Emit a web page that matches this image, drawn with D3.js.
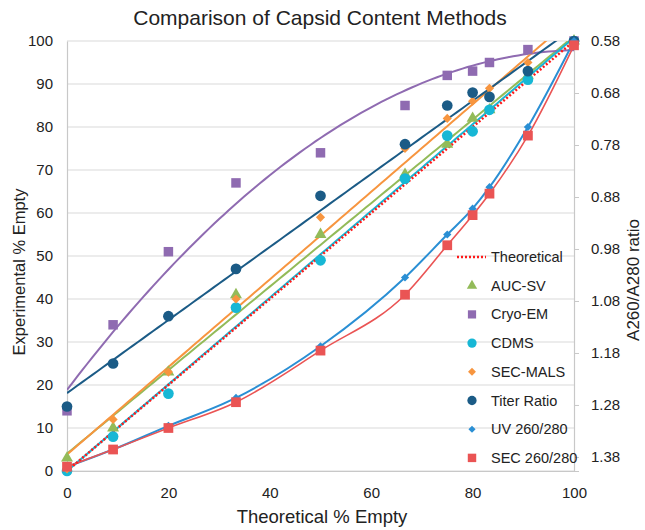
<!DOCTYPE html>
<html>
<head>
<meta charset="utf-8">
<script src="https://cdn.jsdelivr.net/npm/d3@7"></script>
<style>
	body { margin: 0; background: #fff; }
	text { font-family: "Liberation Sans", Arial, sans-serif; fill: #222; }
</style>
</head>
<body>
<svg id="chart"></svg>
<script>
// theoretical % empty of each sample
const xValues = [0, 9.09, 20, 33.33, 50, 66.67, 75, 80, 83.33, 90.91, 100]
const theoretical = [0, 9.09, 20, 33.33, 50, 66.67, 75, 80, 83.33, 90.91, 100]
const aucSv = [3, 10, 23, 41, 55, 69, 76, 82, 84, 92, 100]
const cryoEm = [14, 34, 51, 67, 74, 85, 92, 93, 95, 98, 100]
const cdms = [0, 8, 18, 38, 49, 68, 78, 79, 84, 91, 100]
const secMals = [0.5, 12, 23, 40, 59, 75, 82, 86, 89, 95, 100]
const titerRatio = [15, 25, 36, 47, 64, 76, 85, 88, 87, 93, 100]
const uv260280 = [1, 5, 10.5, 17, 29, 45, 55, 61, 66, 80, 100]
const sec260280 = [1, 5, 10, 16, 28, 41, 52.5, 59.5, 64.5, 78, 99]

const yTicks = [0, 10, 20, 30, 40, 50, 60, 70, 80, 90, 100]
const xTicks = [0, 20, 40, 60, 80, 100]
const ratioTicks = [0.58, 0.68, 0.78, 0.88, 0.98, 1.08, 1.18, 1.28, 1.38]

// fit: "linear", "poly2" or "smooth" (line through the points)
// diamonds are squares turned by 45 degrees
const series = [
	{ name: "AUC-SV", values: aucSv, color: "#93bb59", symbol: d3.symbolTriangle, size: 62, rot: 0, fit: "linear" },
	{ name: "Cryo-EM", values: cryoEm, color: "#8f6bb1", symbol: d3.symbolSquare, size: 90, rot: 0, fit: "poly2" },
	{ name: "CDMS", values: cdms, color: "#17b7d5", symbol: d3.symbolCircle, size: 90, rot: 0, fit: "linear" },
	{ name: "SEC-MALS", values: secMals, color: "#f7953f", symbol: d3.symbolSquare, size: 42, rot: 45, fit: "linear" },
	{ name: "Titer Ratio", values: titerRatio, color: "#1b5b86", symbol: d3.symbolCircle, size: 90, rot: 0, fit: "linear" },
	{ name: "UV 260/280", values: uv260280, color: "#2a8fd4", symbol: d3.symbolSquare, size: 34, rot: 45, fit: "smooth" },
	{ name: "SEC 260/280", values: sec260280, color: "#ea5454", symbol: d3.symbolSquare, size: 95, rot: 0, fit: "smooth" }
]

const width = 645, height = 530
const plotLeft = 67, plotRight = 574, plotTop = 41, plotBottom = 471

const svg = d3.select("#chart")
	.attr("width", width)
	.attr("height", height)

const x = d3.scaleLinear().domain([0, 100]).range([plotLeft, plotRight])
const y = d3.scaleLinear().domain([0, 100]).range([plotBottom, plotTop])
// secondary axis, read only as a reference scale
const yRatio = d3.scaleLinear().domain([1.407, 0.58]).range([plotBottom, plotTop])

// least squares polynomial of given degree, returns coefficients
function polyFit(xs, ys, degree) {
	const n = degree + 1
	const m = []
	for (let i = 0; i < n; i++) {
		m.push([])
		for (let j = 0; j < n; j++) {
			m[i].push(d3.sum(xs, v => Math.pow(v, i + j)))
		}
		m[i].push(d3.sum(xs, (v, k) => Math.pow(v, i) * ys[k]))
	}
	// gaussian elimination
	for (let i = 0; i < n; i++) {
		for (let k = i + 1; k < n; k++) {
			const f = m[k][i] / m[i][i]
			for (let j = i; j <= n; j++) m[k][j] -= f * m[i][j]
		}
	}
	const c = new Array(n).fill(0)
	for (let i = n - 1; i >= 0; i--) {
		let s = m[i][n]
		for (let j = i + 1; j < n; j++) s -= m[i][j] * c[j]
		c[i] = s / m[i][i]
	}
	return c
}

svg.append("defs").append("clipPath").attr("id", "plotClip")
	.append("rect")
	.attr("x", plotLeft).attr("y", plotTop)
	.attr("width", plotRight - plotLeft).attr("height", plotBottom - plotTop)

// gridlines
svg.append("g")
	.selectAll("line")
	.data(yTicks)
	.enter()
	.append("line")
	.attr("x1", plotLeft).attr("x2", plotRight)
	.attr("y1", d => y(d)).attr("y2", d => y(d))
	.attr("stroke", "#d9d9d9")
	.attr("stroke-width", 1)

// axes
const xAxis = svg.append("g")
	.attr("transform", `translate(0, ${plotBottom})`)
	.call(d3.axisBottom(x).tickValues(xTicks).tickSize(0).tickPadding(16))
const yAxis = svg.append("g")
	.attr("transform", `translate(${plotLeft}, 0)`)
	.call(d3.axisLeft(y).tickValues(yTicks).tickSize(0).tickPadding(14))
const rAxis = svg.append("g")
	.attr("transform", `translate(${plotRight}, 0)`)
	.call(d3.axisRight(yRatio).tickValues(ratioTicks).tickFormat(d3.format(".2f")).tickSize(5).tickPadding(12))

;[xAxis, yAxis, rAxis].forEach(a => {
	a.select(".domain").attr("stroke", "#c8c8c8").attr("stroke-width", 1.2)
	a.selectAll(".tick line").attr("stroke", "#c8c8c8")
	a.selectAll(".tick text").attr("font-size", 15).attr("fill", "#222")
		.attr("font-family", "Liberation Sans, Arial, sans-serif")
})

const plot = svg.append("g").attr("clip-path", "url(#plotClip)")

// trend lines
const lineGen = d3.line().x(d => x(d[0])).y(d => y(d[1]))
series.forEach(s => {
	let pts
	if (s.fit === "smooth") {
		pts = xValues.map((v, i) => [v, s.values[i]])
	} else {
		const c = polyFit(xValues, s.values, s.fit === "linear" ? 1 : 2)
		pts = d3.range(0, 100.5, 1).map(v => [v, c.reduce((acc, k, i) => acc + k * Math.pow(v, i), 0)])
	}
	plot.append("path")
		.datum(pts)
		.attr("fill", "none")
		.attr("stroke", s.color)
		.attr("stroke-width", s.name === "SEC 260/280" ? 1.6 : 2)
		.attr("d", s.fit === "smooth" ? lineGen.curve(d3.curveMonotoneX)(pts) : lineGen.curve(d3.curveLinear)(pts))
})

// theoretical line
plot.append("path")
	.datum(xValues.map((v, i) => [v, theoretical[i]]))
	.attr("fill", "none")
	.attr("stroke", "#ff1a1a")
	.attr("stroke-width", 2.5)
	.attr("stroke-dasharray", "2,2")
	.attr("d", d => lineGen.curve(d3.curveLinear)(d))

// markers
series.forEach(s => {
	svg.append("g")
		.selectAll("path")
		.data(s.values)
		.enter()
		.append("path")
		.attr("d", d3.symbol().type(s.symbol).size(s.size))
		.attr("transform", (d, i) => `translate(${x(xValues[i])}, ${y(d)}) rotate(${s.rot})`)
		.attr("fill", s.color)
})

// legend
const legend = svg.append("g")
const rowY = i => 257 + i * 28.7
legend.append("line")
	.attr("x1", 457).attr("x2", 486)
	.attr("y1", rowY(0)).attr("y2", rowY(0))
	.attr("stroke", "#ff1a1a")
	.attr("stroke-width", 2.5)
	.attr("stroke-dasharray", "2,2")
legend.append("text")
	.attr("x", 491).attr("y", rowY(0))
	.attr("dy", "0.35em")
	.attr("font-size", 14.5)
	.text("Theoretical")
series.forEach((s, i) => {
	legend.append("path")
		.attr("d", d3.symbol().type(s.symbol).size(s.size * 0.75))
		.attr("transform", `translate(472, ${rowY(i + 1)}) rotate(${s.rot})`)
		.attr("fill", s.color)
	legend.append("text")
		.attr("x", 491).attr("y", rowY(i + 1))
		.attr("dy", "0.35em")
		.attr("font-size", 14.5)
		.text(s.name)
})

// titles
svg.append("text")
	.attr("x", 320).attr("y", 25)
	.attr("text-anchor", "middle")
	.attr("font-size", 21)
	.text("Comparison of Capsid Content Methods")
svg.append("text")
	.attr("x", 322).attr("y", 523)
	.attr("text-anchor", "middle")
	.attr("font-size", 18.5)
	.text("Theoretical % Empty")
svg.append("text")
	.attr("transform", "translate(25, 272) rotate(-90)")
	.attr("text-anchor", "middle")
	.attr("font-size", 16.5)
	.text("Experimental % Empty")
svg.append("text")
	.attr("transform", "translate(639, 280) rotate(-90)")
	.attr("text-anchor", "middle")
	.attr("font-size", 17)
	.text("A260/A280 ratio")
</script>
</body>
</html>
